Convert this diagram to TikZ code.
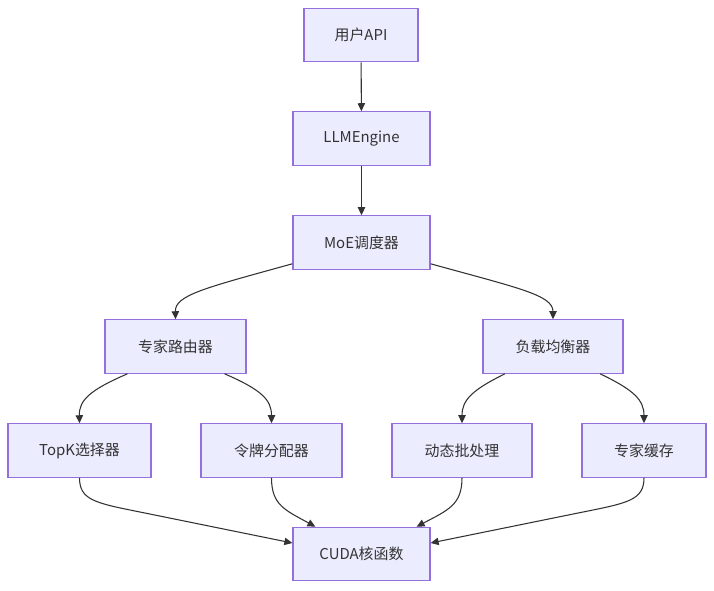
\documentclass[tikz,border=0pt]{standalone}
\usepackage{fontspec}
\setmainfont{Noto Sans CJK SC}
\usetikzlibrary{arrows.meta,calc}
\definecolor{boxfill}{HTML}{ECECFF}
\definecolor{boxline}{HTML}{9370DB}
\definecolor{txt}{HTML}{333333}
\begin{document}
\begin{tikzpicture}[x=0.75pt,y=-0.75pt,
  box/.style={draw=boxline,fill=boxfill,line width=0.9pt,inner sep=0pt,text=txt,
    font=\fontsize{11.2pt}{13pt}\selectfont,minimum height=40pt},
  conn/.style={draw=txt,line width=0.8pt,-{Triangle[length=6pt,width=5.5pt]}}]
\useasboundingbox[fill=white] (0,0) rectangle (714,590);
\node[box,minimum width=85.5pt] (api) at (361,35) {用户API};
\node[box,minimum width=102.75pt] (llm) at (361.5,138.5) {LLMEngine};
\node[box,minimum width=102.75pt] (moe) at (361.5,242.5) {MoE调度器};
\node[box,minimum width=105.75pt] (router) at (175.5,346.5) {专家路由器};
\node[box,minimum width=105pt] (lb) at (553,346.5) {负载均衡器};
\node[box,minimum width=107.25pt] (topk) at (79.5,450.5) {TopK选择器};
\node[box,minimum width=105.75pt] (token) at (271.5,450.5) {令牌分配器};
\node[box,minimum width=105pt] (batch) at (462,450.5) {动态批处理};
\node[box,minimum width=93pt] (cache) at (644,450.5) {专家缓存};
\node[box,minimum width=102.75pt] (cuda) at (361.5,554) {CUDA核函数};

\draw[conn] (api) -- (llm);
\draw[conn] (llm) -- (moe);
\draw[conn] ($(moe.south west)+(0,-6)$) .. controls (205,288) and (175,295) .. (router.north);
\draw[conn] ($(moe.south east)+(0,-6)$) .. controls (518,288) and (553,295) .. (lb.north);
\draw[conn] ($(router.south)+(-48,0)$) .. controls (90,390) and (79,400) .. (topk.north);
\draw[conn] ($(router.south)+(49,0)$) .. controls (262,390) and (271.5,400) .. (token.north);
\draw[conn] ($(lb.south)+(-48,0)$) .. controls (472,390) and (462,400) .. (batch.north);
\draw[conn] ($(lb.south)+(47,0)$) .. controls (634,390) and (644,400) .. (cache.north);
\draw[conn] (topk.south) .. controls (79.5,500) and (95,503) .. (140,512) -- ($(cuda.west)+(0,-11)$);
\draw[conn] (token.south) .. controls (271.5,505) and (285,510) .. ($(cuda.north west)+(23,0)$);
\draw[conn] (batch.south) .. controls (462,505) and (448,510) .. ($(cuda.north east)+(-14,0)$);
\draw[conn] (cache.south) .. controls (644,500) and (628,503) .. (583,512) -- ($(cuda.east)+(0,-11)$);
\end{tikzpicture}
\end{document}
